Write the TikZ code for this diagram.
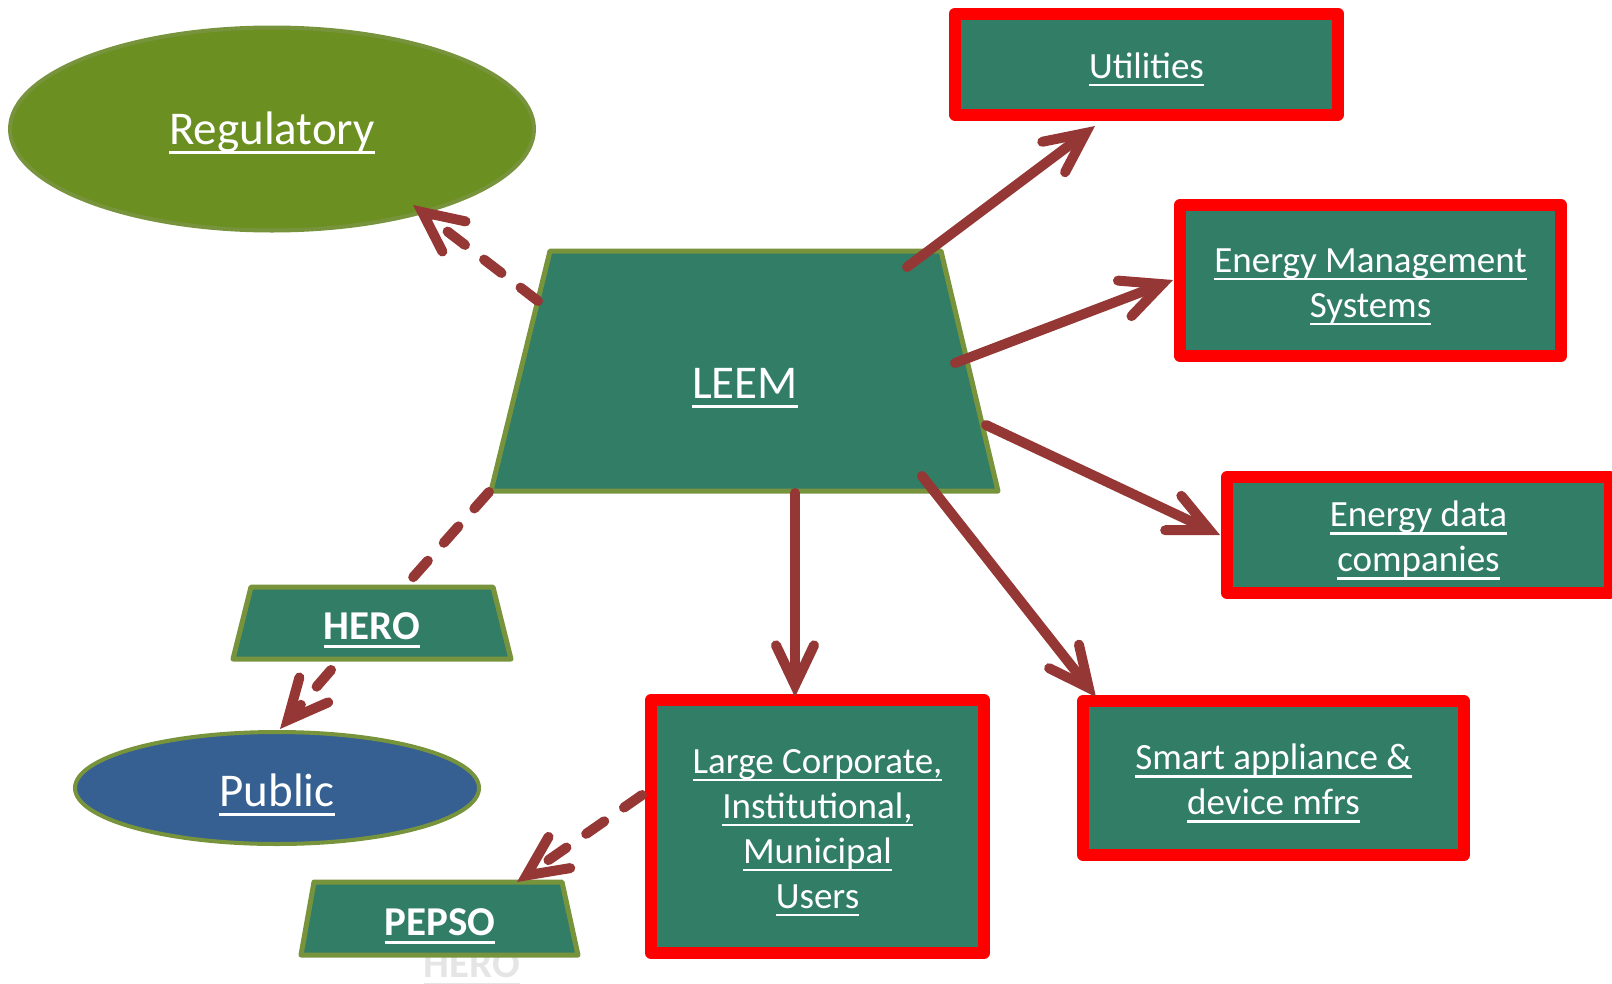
\documentclass[tikz,border=0pt]{standalone}
\usepackage{fontspec}
\setmainfont{Carlito}
\usetikzlibrary{shapes.geometric,arrows.meta}
\definecolor{boxfill}{RGB}{50,125,102}
\definecolor{olivebd}{RGB}{119,147,60}
\definecolor{regfill}{RGB}{108,143,33}
\definecolor{pubfill}{RGB}{54,96,146}
\definecolor{arrowred}{RGB}{149,55,53}
\newcommand\myul[1]{\raisebox{0pt}[0.64em][0pt]{\setbox0=\hbox{#1}\rlap{\rule[-0.21em]{\wd0}{0.065em}}\box0}}
\newcommand\myulb[1]{\raisebox{0pt}[0.78em][0pt]{\setbox0=\hbox{#1}\rlap{\rule[-0.21em]{\wd0}{0.065em}}\box0}}
\tikzset{
  redbox/.style={rectangle, draw=red, line width=12pt, line join=round, fill=boxfill,
    text=white, align=center, inner sep=0pt, font=\fontsize{37}{45}\selectfont},
  oval/.style={ellipse, draw=olivebd, line width=4pt, text=white, inner sep=0pt,
    font=\fontsize{47}{56}\selectfont},
  trap/.style={draw=olivebd, line width=5pt, line join=round, fill=boxfill},
  traptext/.style={text=white, inner sep=0pt, font=\fontsize{41}{49}\bfseries\selectfont},
  arr/.style={draw=arrowred, line width=10pt, line cap=round,
    -{Straight Barb[length=40pt,width=38pt,line cap=round,line join=miter]}},
  dashline/.style={draw=arrowred, line width=10pt, line cap=round, dash pattern=on 22pt off 24pt},
  darr/.style={dashline, -{Straight Barb[length=40pt,width=38pt,line cap=round,line join=miter]}}
}
\begin{document}
\begin{tikzpicture}[x=1pt,y=-1pt]
\useasboundingbox (0,0) rectangle (1612,983);

% ellipses
\node[oval, fill=regfill, minimum width=524pt, minimum height=203pt] (reg) at (272,129) {\myul{Regulatory}};
\node[oval, fill=pubfill, minimum width=404pt, minimum height=112pt] (pub) at (277,788) {\myulb{Public}};

% LEEM trapezoid
\path[trap] (550,251) coordinate (ltl) -- (941,251) coordinate (ltr) -- (998,491) coordinate (lbr) -- (491,491) coordinate (lbl) -- cycle;
\node[text=white, inner sep=0pt, font=\fontsize{47}{56}\selectfont] (leem) at (745,383) {\myul{LEEM}};

% HERO trapezoid
\path[trap] (251,587) -- (493,587) -- (511,659) -- (233,659) -- cycle;
\node[traptext] (hero) at (372,626) {\myul{HERO}};

% ghost HERO text
\node[traptext, text=gray!20, anchor=base] (ghost) at (472,977) {\myul{HERO}};

% PEPSO trapezoid
\path[trap] (314,882) -- (562,882) -- (578,955) -- (301,955) -- cycle;
\node[traptext] (pepso) at (440,922) {\myul{PEPSO}};

% red boxes
\node[redbox, minimum width=383pt, minimum height=101pt] (util) at (1146.5,64) {\myulb{Utilities}};
\node[redbox, minimum width=381pt, minimum height=151pt] (ems) at (1370.5,280.5) {\myulb{Energy Management}\\\myul{Systems}};
\node[redbox, minimum width=383pt, minimum height=116pt] (edc) at (1418.5,535) {\myulb{Energy data}\\\myul{companies}};
\node[redbox, minimum width=381pt, minimum height=154pt] (smart) at (1273.5,778) {\myulb{Smart appliance \&}\\\myul{device mfrs}};
\node[redbox, minimum width=333pt, minimum height=253pt] (lcu) at (817.5,826.5) {\myulb{Large Corporate,}\\\myul{Institutional,}\\\myul{Municipal}\\\myul{Users}};

% connector end points
\coordinate (sReg) at (538,301);
\coordinate (tReg) at (413,205);
\coordinate (sUtil) at (907,267);
\coordinate (tUtil) at (1095,126);
\coordinate (sEms) at (955,363);
\coordinate (tEms) at (1173,280);
\coordinate (sEdc) at (986,425);
\coordinate (tEdc) at (1220,535);
\coordinate (sSmart) at (922,476);
\coordinate (tSmart) at (1096,697);
\coordinate (sLcu) at (795,493);
\coordinate (tLcu) at (795,697);
\coordinate (sHero) at (489,492);
\coordinate (tHero) at (408,583);
\coordinate (sPub) at (331,670);
\coordinate (tPub) at (280,729);
\coordinate (sPep) at (642,795);
\coordinate (tPep) at (517,882);

% connectors
\draw[darr] (sReg) -- (tReg);
\draw[arr] (sUtil) -- (tUtil);
\draw[arr] (sEms) -- (tEms);
\draw[arr] (sEdc) -- (tEdc);
\draw[arr] (sSmart) -- (tSmart);
\draw[arr] (sLcu) -- (tLcu);
\draw[dashline] (sHero) -- (tHero);
\draw[darr] (sPub) -- (tPub);
\draw[darr] (sPep) -- (tPep);
\end{tikzpicture}
\end{document}
